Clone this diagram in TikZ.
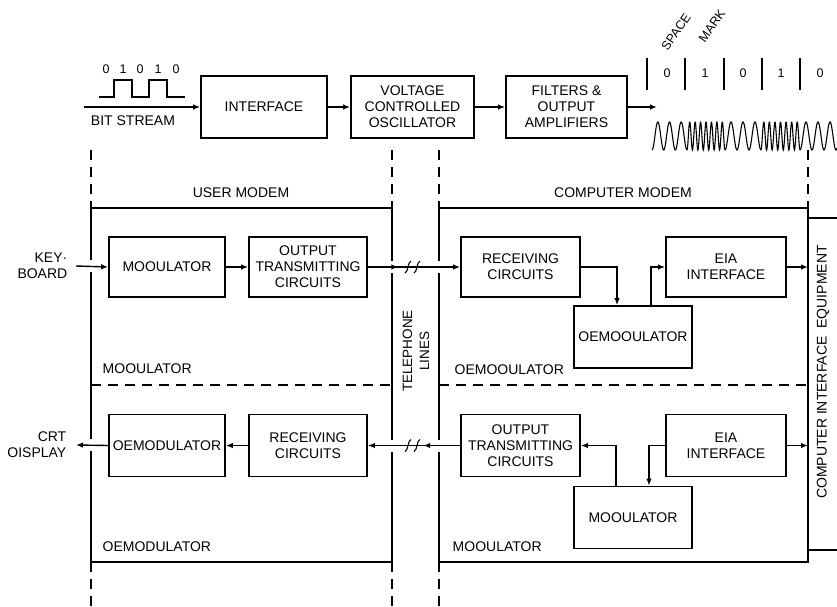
\documentclass[tikz,border=0pt]{standalone}
\usepackage{fontspec}
\setmainfont{Liberation Sans}
\usetikzlibrary{arrows.meta,positioning,decorations.markings}

% two small S-strokes marking a telephone line
\newcommand{\telbreak}[2]{%
  \foreach \dx in {-4.5,4.5}
    \draw[line width=1.1pt] ({#1+\dx-3},{#2+6}) .. controls ({#1+\dx},{#2+6}) and ({#1+\dx},{#2-6}) .. ({#1+\dx+3},{#2-6});}

\begin{document}
\begin{tikzpicture}[x=1pt,y=-1pt,line width=1.4pt,
    font=\fontsize{14}{16}\selectfont,
    blk/.style={draw,line width=1.7pt,minimum width=118pt,minimum height=62pt,align=center,inner sep=2pt},
    arr/.style={-{Latex[length=7pt,width=5.5pt]}},
    midarr/.style={postaction={decorate},decoration={markings,mark=at position #1 with {\arrow{Latex[length=7pt,width=5.5pt]}}}},
    dsh/.style={dash pattern=on 10pt off 7pt},
    sec/.style={anchor=west,inner sep=0pt},
    small/.style={font=\fontsize{12.5}{14}\selectfont},
    tone/.style={line width=1.1pt,samples=120}]
  \useasboundingbox (0,0) rectangle (837,607);

  % --- top row: bit stream to FSK tones
  \foreach \d/\x [count=\i] in {0/106,1/123,0/140,1/158,0/176}
    \node[small] (bit\i) at (\x,69) {\d};
  \draw[line width=1.1pt] (99,97) -- (114,97) -- (114,80) -- (132,80) -- (132,97) -- (149,97)
    -- (149,80) -- (167,80) -- (167,97) -- (185,97);
  \coordinate (bs) at (84,107);
  \node (bslbl) at (133,121) {BIT STREAM};

  \node[blk,minimum width=126pt] (intf) at (264,107) {INTERFACE};
  \node[blk,minimum width=123pt] (vco) at (412.5,107) {VOLTAGE\\CONTROLLED\\OSCILLATOR};
  \node[blk,minimum width=121pt] (filt) at (566.5,107) {FILTERS \&\\OUTPUT\\AMPLIFIERS};
  \coordinate (fsk) at (657,107);

  \draw[arr] (bs) -- (intf.west);
  \draw[arr] (intf) -- (vco);
  \draw[arr] (vco) -- (filt);
  \draw[arr] (filt.east) -- (fsk);

  \foreach \x in {647,685,724,762,800}
    \draw[line width=1.8pt] (\x,58) -- (\x,90);
  \foreach \d/\x [count=\i] in {0/667,1/705,0/743,1/781,0/820}
    \node[small] (tone\i) at (\x,73) {\d};
  \node[small,rotate=55,inner sep=0pt] (space) at (676,32) {SPACE};
  \node[small,rotate=55,inner sep=0pt] (mark) at (712,26) {MARK};

  % tones: slow cycles for a space, fast ones for a mark
  \draw[tone] plot[domain=652:687] (\x,{136+14*cos(30.857*(\x-652))});
  \draw[tone] plot[domain=687:725] (\x,{136+14*cos(66.316*(\x-687))});
  \draw[tone] plot[domain=725:761] (\x,{136+14*cos(30*(\x-725))});
  \draw[tone] plot[domain=761:800] (\x,{136+14*cos(64.615*(\x-761))});
  \draw[tone] plot[domain=800:837] (\x,{136+14*cos(30*(\x-800))});

  % --- modem frames
  \draw (91,208) rectangle (392,562);
  \draw (439,208) rectangle (808,562);
  \draw[dsh] (91,385) -- (392,385);
  \draw[dsh] (439,385) -- (808,385);
  \foreach \x in {91,392,439,808}
    \draw[dsh] (\x,150) -- (\x,208);
  \foreach \x in {91,392,439}
    \draw[dsh] (\x,562) -- (\x,607);
  \draw (808,218) -- (850,218);
  \draw (808,550) -- (850,550);
  \coordinate (eqline) at (808,385);

  \node (uhead) at (241,193) {USER MODEM};
  \node (chead) at (623,193) {COMPUTER MODEM};
  \node[sec] (umodlbl) at (102,369) {MOOULATOR};
  \node[sec] (udemlbl) at (102,547) {OEMODULATOR};
  \node[sec] (cdemlbl) at (454,370) {OEMOOULATOR};
  \node[sec] (cmodlbl) at (452,547) {MOOULATOR};
  \node[rotate=90,align=center,font=\fontsize{13.5}{17}\selectfont] (tel) at (416,351) {TELEPHONE\\LINES};
  \node[rotate=90] (equip) at (823,372) {COMPUTER INTERFACE\hspace{8pt}EQUIPMENT};

  % --- user modem
  \node[blk,minimum width=116pt,minimum height=60pt] (umod) at (167,267) {MOOULATOR};
  \node[blk,minimum height=60pt] (uout) at (308,267) {OUTPUT\\TRANSMITTING\\CIRCUITS};
  \node[blk,minimum width=116pt] (udem) at (167,445.5) {OEMODULATOR};
  \node[blk] (urec) at (308,445.5) {RECEIVING\\CIRCUITS};
  \node[anchor=east,align=right,inner sep=0pt] (kbd) at (68,266) {KEY·\\BOARD};
  \node[anchor=east,align=right,inner sep=0pt] (crt) at (67,445) {CRT\\OISPLAY};

  % --- computer modem
  \node[blk,minimum width=119pt,minimum height=60pt] (crec) at (520.5,267) {RECEIVING\\CIRCUITS};
  \node[blk,minimum width=120pt,minimum height=60pt] (eia1) at (726,267) {EIA\\INTERFACE};
  \node[blk] (cdem) at (633,337) {OEMOOULATOR};
  \node[blk,minimum width=119pt] (cout) at (520.5,445.5) {OUTPUT\\TRANSMITTING\\CIRCUITS};
  \node[blk,minimum width=120pt] (eia2) at (726,445.5) {EIA\\INTERFACE};
  \node[blk] (cmod) at (633,517.5) {MOOULATOR};

  % gaps where lines cross the frames
  \foreach \x/\y in {91/266,91/445,392/267,439/267,392/445.5,439/445.5}
    \draw[white,line width=4pt] (\x,\y-6) -- (\x,\y+6);

  \draw[arr] ([xshift=8pt]kbd.east) -- (umod.west);
  \draw[arr] (umod) -- (uout);
  \draw[arr,midarr=0.33] (uout.east) -- (crec.west);
  \draw[arr] (crec.east) -| ([xshift=-16pt]cdem.north);
  \draw[arr] ([xshift=18pt]cdem.north) |- (eia1.west);
  \draw[arr] (eia1.east) -- (eia1.east -| eqline);

  \draw[arr] (eia2.east) -- (eia2.east -| eqline);
  \draw[arr] (eia2.west) -| ([xshift=16pt]cmod.north);
  \draw[arr] ([xshift=-17pt]cmod.north) |- (cout.east);
  \draw[arr,midarr=0.40] (cout.west) -- (urec.east);
  \draw[arr] (urec) -- (udem);
  \draw[arr] (udem.west) -- ([xshift=9pt]crt.east);

  \telbreak{412.5}{267}
  \telbreak{412.5}{445.5}
\end{tikzpicture}
\end{document}
